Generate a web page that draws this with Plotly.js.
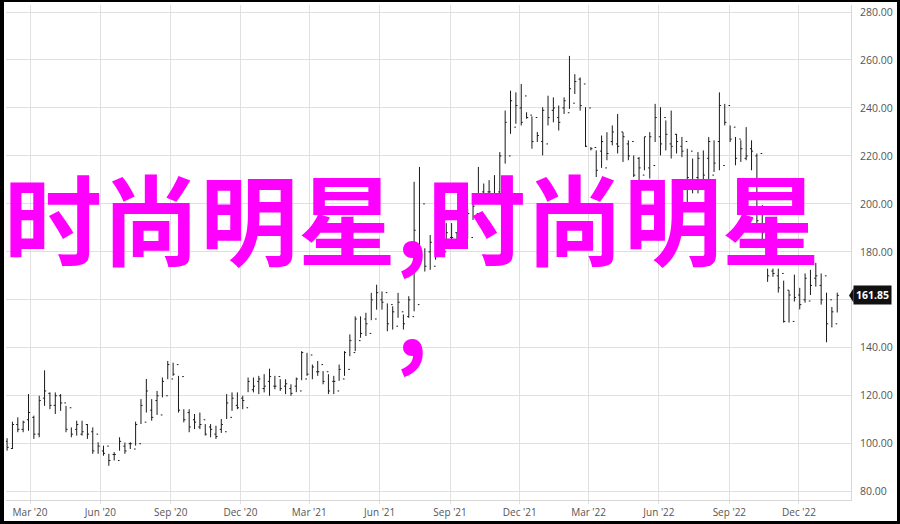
<!DOCTYPE html>
<html>
<head>
<meta charset="utf-8">
<script src="https://cdn.plot.ly/plotly-3.0.1.min.js"></script>
<style>
  html, body { margin: 0; padding: 0; background: #fff; }
  #chart { width: 900px; height: 524px; }
  #frame { position: fixed; left: 0; top: 0; width: 900px; height: 524px; box-sizing: border-box;
           border-style: solid; border-color: #000; border-width: 2px 3px 3px 4px; pointer-events: none; }
</style>
</head>
<body>
<div id="chart"></div>
<div id="frame"></div>
<script>
const dates = [
'2020-01-31','2020-02-07','2020-02-14','2020-02-21','2020-02-28','2020-03-06','2020-03-13','2020-03-20','2020-03-27','2020-04-03','2020-04-10','2020-04-17','2020-04-24','2020-05-01','2020-05-08','2020-05-15','2020-05-22','2020-05-29','2020-06-05','2020-06-12','2020-06-19','2020-06-26','2020-07-03','2020-07-10','2020-07-17','2020-07-24','2020-07-31','2020-08-07','2020-08-14','2020-08-21','2020-08-28','2020-09-04','2020-09-11','2020-09-18','2020-09-25','2020-10-02','2020-10-09','2020-10-16','2020-10-23','2020-10-30','2020-11-06','2020-11-13','2020-11-20','2020-11-27','2020-12-04','2020-12-11','2020-12-18','2020-12-25',
'2021-01-01','2021-01-08','2021-01-15','2021-01-22','2021-01-29','2021-02-05','2021-02-12','2021-02-19','2021-02-26','2021-03-05','2021-03-12','2021-03-19','2021-03-26','2021-04-02','2021-04-09','2021-04-16','2021-04-23','2021-04-30','2021-05-07','2021-05-14','2021-05-21','2021-05-28','2021-06-04','2021-06-11','2021-06-18','2021-06-25','2021-07-02','2021-07-09','2021-07-16','2021-07-23','2021-07-30','2021-08-06','2021-08-13','2021-08-20','2021-08-27','2021-09-03','2021-09-10','2021-09-17','2021-09-24','2021-10-01','2021-10-08','2021-10-15','2021-10-22','2021-10-29','2021-11-05','2021-11-12','2021-11-19','2021-11-26','2021-12-03','2021-12-10','2021-12-17','2021-12-24','2021-12-31',
'2022-01-07','2022-01-14','2022-01-21','2022-01-28','2022-02-04','2022-02-11','2022-02-18','2022-02-25','2022-03-04','2022-03-11','2022-03-18','2022-03-25','2022-04-01','2022-04-08','2022-04-15','2022-04-22','2022-04-29','2022-05-06','2022-05-13','2022-05-20','2022-05-27','2022-06-03','2022-06-10','2022-06-17','2022-06-24','2022-07-01','2022-07-08','2022-07-15','2022-07-22','2022-07-29','2022-08-05','2022-08-12','2022-08-19','2022-08-26','2022-09-02','2022-09-09','2022-09-16','2022-09-23','2022-09-30','2022-10-07','2022-10-14','2022-10-21','2022-10-28','2022-11-04','2022-11-11','2022-11-18','2022-11-25','2022-12-02','2022-12-09','2022-12-16','2022-12-23','2022-12-30',
'2023-01-06','2023-01-13','2023-01-20'
];

const openP = [
101,98,108,106,110,111,104,119,121,116,120,117,115,106,104,108,105,104,97,99,
95.5,93,99,100,97.8,100,109,114,118,112,120,127,133,128,113,110,107,110,107,104,
106,105,111,116,119,115,122.5,126,123,126,124,128,124,123,124,122,127,137,130,133,
130,126,122,127,131,138,143,152,146,152,160,163,158,149,155,153,153,158,200,180,
174,184,180,186,188,186,185,186,196,205,205,204,205,204,220,232,240,245,237,236,
226,225,239,236,240,238,242,252,250,240,223.5,222,215,226,225,230,225,226,219,212,
215,216,228,236,225,229,224,226,222,211,206,219,212,226,216,241,232,227,219,223,
220,221,193,172,170,171,164,151,162,160,159.5,169,166,170,160,150
];
const highP = [
102.3,109.2,111,109.6,120.7,111.7,120,130.6,121.4,121.4,120.7,115.8,106.8,109.6,109.6,108.2,106.8,100.6,99.2,95.8,
96.5,102.7,100.5,100.6,109.2,118.6,127,118.6,122,127.6,134.5,133.8,128.3,114.4,114.4,112.4,113,108.2,108.2,107.5,
110.3,120.7,121.4,121.4,120,127.6,127.6,128.3,129,131.3,128.3,126.9,126.9,124.8,127.6,138.6,137.9,133,134.5,130.3,
129,128.3,133,138.6,145.6,153.1,153.1,154.6,162.9,166.3,163.5,158.5,157.3,162.9,153.9,161.5,209.2,215.4,181.5,187,
186.3,188,192,192,188,187,198,201.6,215.4,208.5,209.9,212,221.6,238.9,247.2,246.5,250,238.2,236.5,230,
240.3,245.1,244.4,241,244.4,261.7,254.1,252.7,240.3,223.7,222.3,228.5,229.9,232.7,237.5,229.9,226.5,220.2,219.5,227.9,
229.9,241.7,240.3,234.8,238.9,229.2,227.9,223,218.9,221.6,222.3,227.9,226.5,246.5,241.7,232.7,227.9,226.5,232,226.5,
221,199.5,173,173,173,168,164,170.5,165,171,172.5,175.4,171,163,157,163
];
const lowP = [
97.1,97.8,104.8,104.8,105.4,102,102.7,115.8,114.4,112.4,113.7,104.8,102.7,103.4,103.4,102,95.8,95.8,95,90.8,
93,97.1,95.8,97.8,99.2,108.2,113,109.6,112,119.3,126.9,128.3,113,108.9,104.8,106.1,106.1,103.4,102.7,102,
104.5,110.3,113.7,114.4,114.4,121.5,121.4,120.7,121.4,120,122.7,122,120.7,120,121.5,126.5,128.3,126.9,128.3,124.8,
120.7,120.7,126.2,128.3,136.5,138.6,144.2,144.9,151.5,155.9,155.9,146.9,147.6,152.5,147.6,152.5,155.2,176.7,171.8,172.5,
176.7,178,183,185,184,183.5,185.5,193.3,203,203,203,203,203.7,216.8,229.2,233.4,232.7,235.5,223,225.8,
220.2,232.7,234,230.6,237.5,239.6,245.8,238.9,223.7,222.3,211.2,215,218.2,224.4,221,217.5,218.2,211.2,207.8,214,
210.6,225.8,220.2,222.3,218.9,221,219.5,198.8,204.4,204.4,208.5,208.5,213.3,214,232.7,225.8,216.1,217.5,218.2,214,
190.5,185,167.5,169.6,163,150.5,150.5,159.3,156,158.8,162,165.5,158,142.3,148.5,154.7
];
const closeP = [
98.5,108,106,109,113,104,118,122,116,120,117,106,104,108,105,104,97,99,96,93,
95.5,101,97,100,108,116,122,111,120,126,133,129,114,110,107,109,108,104,106,103,
108,117,119,115,118,126,124,127,124,128,124,123,125,121,127,138,129,132,130,126,
122,126,131,138,143,152,146,150,160,163,159,150,155,159,150,160,189,180,174,184,
179,186,188,186,185,186,196,199,204,204,205,204,220,234,243,241,234,236,226,228.5,
239,236,240,234,243,248,251,241,224,223,214,226,221,230,224,228,220,212,215,228,
228,236,225,229,224,226,222,211,206,219,212,226,217,241,234,227,219,223,220,222,
193,188,170,171,165,151,162,161,158,169,166,170,160,150,155,161.85
];

const tickValsY = [80,100,120,140,160,180,200,220,240,260,280];
const tickLabelsY = ['80.00','100.00','120.00','140.00','','180.00','200.00','220.00','240.00','260.00','280.00'];
const watermark = '时尚明星,时尚明星';
const watermark2 = ',';

const lastClose = closeP[closeP.length - 1];

const trace = {
  type: 'ohlc',
  x: dates, open: openP, high: highP, low: lowP, close: closeP,
  increasing: { line: { color: '#1a1a1a', width: 1 } },
  decreasing: { line: { color: '#1a1a1a', width: 1 } },
  tickwidth: 0.3,
  hoverinfo: 'skip'
};

const layout = {
  width: 900, height: 524,
  margin: { l: 6, r: 49, t: 5, b: 24, pad: 0 },
  paper_bgcolor: '#ffffff', plot_bgcolor: '#ffffff',
  showlegend: false,
  font: { family: 'Open Sans, sans-serif', size: 10, color: '#555' },
  xaxis: {
    type: 'date',
    range: ['2020-01-29 14:00', '2023-02-07'],
    rangeslider: { visible: false },
    tick0: '2020-03-01', dtick: 'M3', tickformat: "%b '%y",
    showgrid: true, gridcolor: '#e0e0e0', gridwidth: 1,
    ticks: 'outside', ticklen: 3, tickcolor: '#e0e0e0',
    showline: true, linecolor: '#d6d6d6', linewidth: 1,
    zeroline: false, tickfont: { size: 10, color: '#555' }
  },
  yaxis: {
    side: 'right',
    range: [76.54, 282.92],
    tickmode: 'array', tickvals: tickValsY, ticktext: tickLabelsY,
    showgrid: true, gridcolor: '#e0e0e0', gridwidth: 1,
    ticks: '', ticklabelstandoff: 6,
    showline: true, linecolor: '#d6d6d6', linewidth: 1,
    zeroline: false, tickfont: { size: 10.5, color: '#555' }
  },
  annotations: [
    {
      xref: 'paper', yref: 'paper', x: 0.4805, y: 0.576, xanchor: 'center', yanchor: 'middle',
      text: watermark, showarrow: false,
      font: { family: 'Noto Sans CJK SC', size: 98, color: '#ff00ff', weight: 'bold' }
    },
    {
      xref: 'paper', yref: 'paper', x: 0.4805, y: 0.377, xanchor: 'center', yanchor: 'middle',
      text: watermark2, showarrow: false,
      font: { family: 'Noto Sans CJK SC', size: 98, color: '#ff00ff', weight: 'bold' }
    },
    {
      xref: 'paper', yref: 'y', x: 1, y: lastClose, xanchor: 'left', yanchor: 'middle', xshift: 2,
      text: lastClose.toFixed(2), showarrow: false, bgcolor: '#111', borderpad: 2,
      font: { family: 'Open Sans, sans-serif', size: 10.5, color: '#fff', weight: 'bold' }
    }
  ],
  shapes: [
    {
      type: 'path', xref: 'paper', yref: 'y',
      path: 'M 0.9976,' + lastClose + ' L 1.0030,' + (lastClose + 3.0) + ' L 1.0030,' + (lastClose - 3.0) + ' Z',
      fillcolor: '#111', line: { width: 0 }
    }
  ]
};

Plotly.newPlot('chart', [trace], layout, { staticPlot: true, displayModeBar: false });
</script>
</body>
</html>
